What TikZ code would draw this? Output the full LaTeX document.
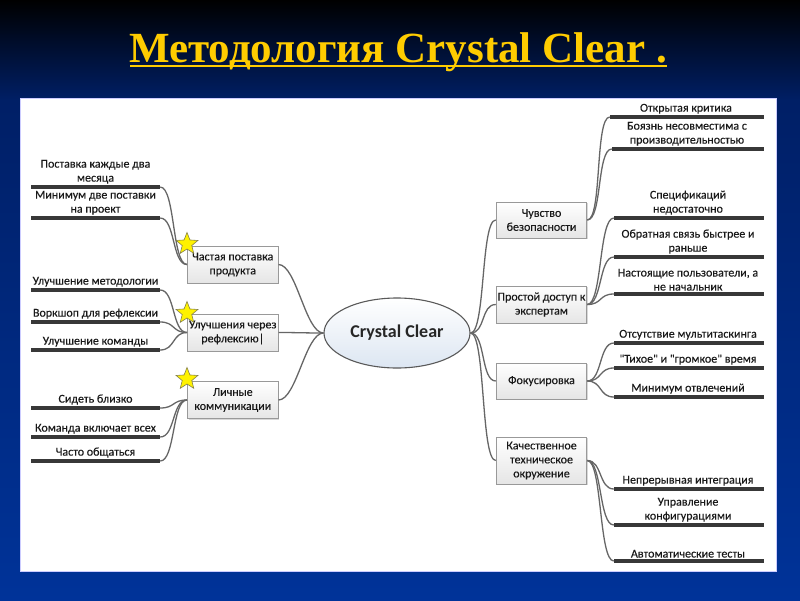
\documentclass[tikz,border=0pt]{standalone}
\usepackage{fontspec}
\setmainfont{Carlito}
\newfontfamily\lf{Carlito}[FakeBold=0.2]
\newfontfamily\titlefont{Liberation Serif}
\usetikzlibrary{shapes.geometric,shadows,calc}
\definecolor{deck}{HTML}{003399}
\definecolor{deckmid}{HTML}{001F66}
\definecolor{gold}{HTML}{FFCC00}
\definecolor{rootlow}{HTML}{DCE6F2}
\tikzset{
  x=1pt,y=-1pt,
  box/.style={draw=black!40,line width=1pt,top color=white,bottom color=black!10,minimum width=90.5pt,inner sep=0pt,align=center,font=\lf\fontsize{12}{14}\selectfont,text=black!90,drop shadow={shadow xshift=1pt,shadow yshift=-1pt,fill=black!30,opacity=.5}},
  bar/.style={fill=black!78,inner sep=0pt,minimum height=4pt},
  leaf/.style={align=center,inner sep=0pt,anchor=south,font=\lf\fontsize{12}{14}\selectfont,text=black!90},
  conn/.style={draw=black!60,line width=1.3pt},
  starmark/.style={star,star points=5,star point ratio=2.3,fill=yellow,draw=black!55!yellow,line width=.6pt,inner sep=0pt,minimum size=23pt},
}
\newcommand{\leaflink}[2]{\draw[conn] (#1) .. controls +(15,0) and +(-15,0) .. (#2);}
\begin{document}
\begin{tikzpicture}
\useasboundingbox (0,0) rectangle (800,600);
\shade[top color=black,bottom color=deckmid] (0,0) rectangle (800,100.5);
\shade[top color=deckmid,bottom color=deck] (0,100) rectangle (800,600);
\fill[white,draw=blue!20,line width=.5pt] (20,98) rectangle (776,571);
% title
\node[anchor=base,inner sep=0pt,text=gold,font=\titlefont\bfseries\fontsize{43}{46}\selectfont] (title) at (398,62) {Методология Crystal Clear .};
\fill[gold] (130,65) rectangle (667,67.2);
% root
\node[ellipse,draw=black!65,line width=1.1pt,top color=white,bottom color=rootlow,minimum width=146pt,minimum height=70pt,inner sep=0pt,font=\bfseries\fontsize{18}{20}\selectfont,text=black!85] (root) at (397,333) {Crystal Clear};
% left boxes
\node[box,minimum height=37pt] (b1) at (232.75,264.5) {Частая поставка\\продукта};
\node[box,minimum height=37pt] (b2) at (232.75,332.5) {Улучшения через\\рефлексию|};
\node[box,minimum height=37pt] (b3) at (232.75,400) {Личные\\коммуникации};
% right boxes
\node[box,minimum height=36pt] (c1) at (541.5,220) {Чувство\\безопасности};
\node[box,minimum height=37pt] (c2) at (541.5,304.5) {Простой доступ к\\экспертам};
\node[box,minimum height=36pt] (c3) at (541.5,381) {Фокусировка};
\node[box,minimum height=47pt] (c4) at (541.5,460.5) {Качественное\\техническое\\окружение};
% left leaves
\foreach \n/\y/\t in {l1/187/{Поставка каждые два\\месяца},l2/218/{Минимум две поставки\\на проект},l3/290/{Улучшение методологии},l4/322/{Воркшоп для рефлексии},l5/350/{Улучшение команды},l6/408/{Сидеть близко},l7/437/{Команда включает всех},l8/461/{Часто общаться}}{
  \node[bar,minimum width=129pt] (\n) at (95.5,\y) {};
  \node[leaf] (\n t) at ($(\n.north)+(0,-1)$) {\t};
}
% right leaves
\foreach \n/\x/\y/\t in {r1/687/117/{Открытая критика},r2/688/149/{Боязнь несовместима с\\производительностью},r3/689/218/{Спецификаций\\недостаточно},r4/689/257/{Обратная связь быстрее и\\раньше},r5/689/294/{Настоящие пользователи, а\\не начальник},r6/689/343/{Отсутствие мультитаскинга},r7/689/368/{"Тихое" и "громкое" время},r8/689/397/{Минимум отвлечений},r9/689/489/{Непрерывная интеграция},r10/689/525/{Управление\\конфигурациями},r11/689/561/{Автоматические тесты}}{
  \node[bar,minimum width={2*(764-\x)}] (\n) at (\x,\y) {};
  \node[leaf] (\n t) at ($(\n.north)+(-1,-1)$) {\t};
}
% connectors
\foreach \a/\b in {l1/b1,l2/b1,l3/b2,l4/b2,l5/b2,l6/b3,l7/b3,l8/b3}{\leaflink{\a.east}{\b.west}}
\foreach \a/\b in {c1/r1,c1/r2,c2/r3,c2/r4,c2/r5,c3/r6,c3/r7,c3/r8,c4/r9,c4/r10,c4/r11}{\leaflink{\a.east}{\b.west}}
\foreach \a in {b1,b2,b3}{\draw[conn] (\a.east) .. controls +(18,0) and +(-18,0) .. (root.west);}
\foreach \a in {c1,c2,c3,c4}{\draw[conn] (root.east) .. controls +(15,0) and +(-15,0) .. (\a.west);}
% stars
\node[starmark] (s1) at (187,244) {};
\node[starmark] (s2) at (187,313) {};
\node[starmark] (s3) at (187,379) {};
\end{tikzpicture}
\end{document}
